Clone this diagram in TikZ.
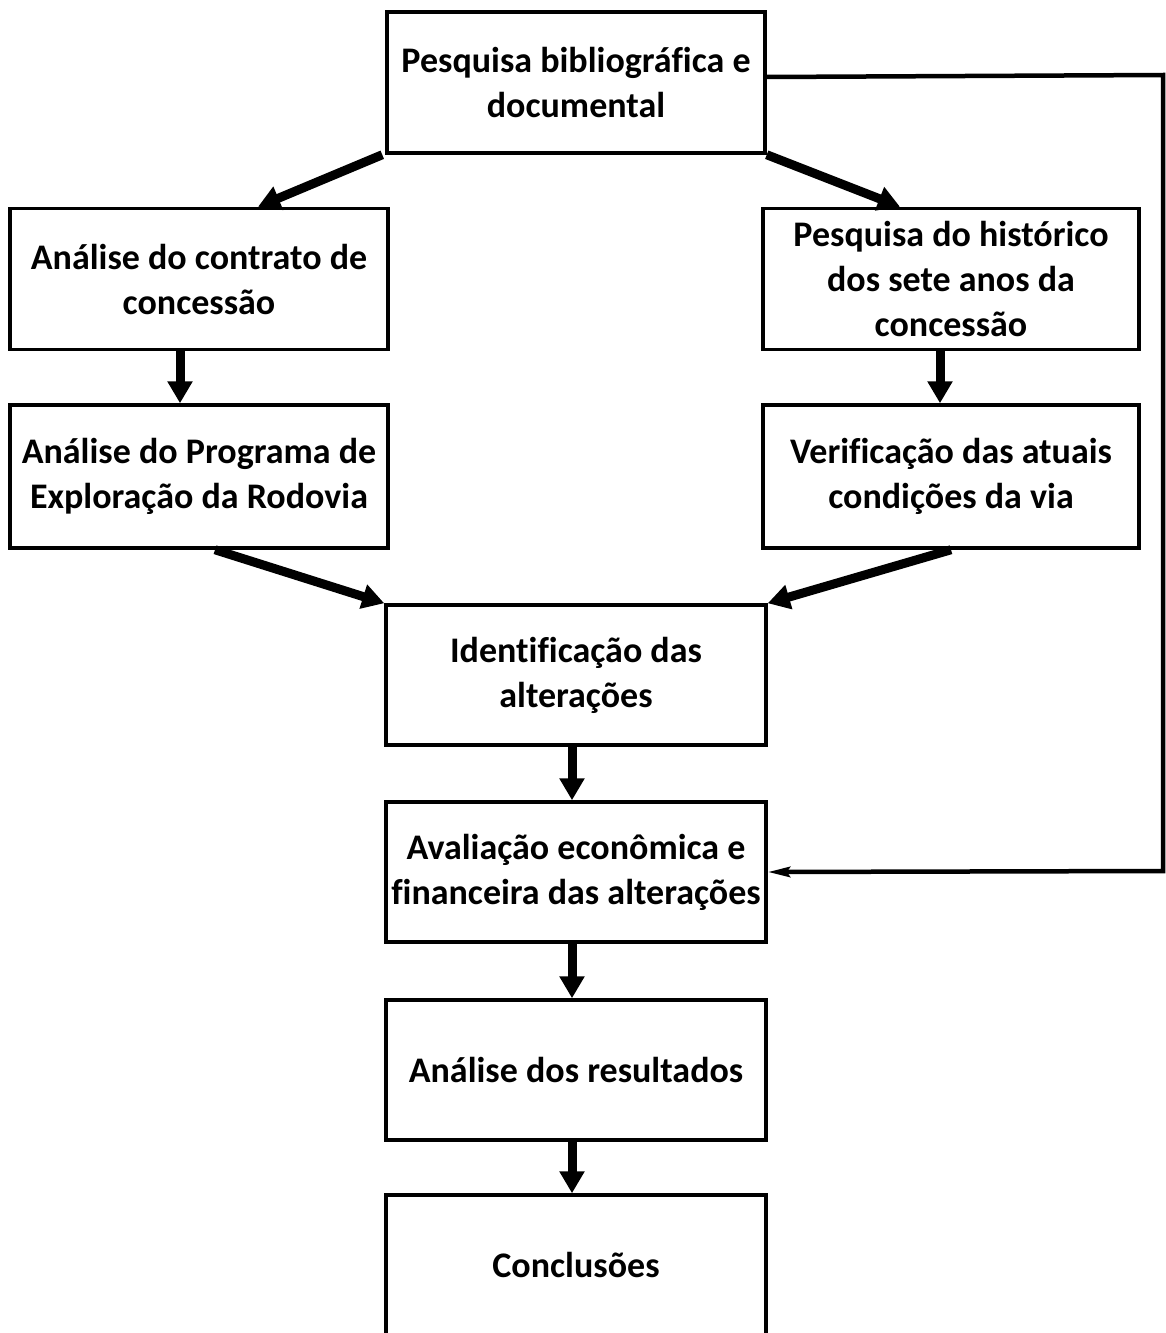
\documentclass[tikz,border=0pt]{standalone}
\usepackage{fontspec}
\setmainfont[RawFeature={-liga}]{Carlito}
\usetikzlibrary{arrows.meta,calc}
\tikzset{
  box/.style={draw=black, line width=3.5pt, rectangle, align=center, minimum width=378pt, minimum height=141pt, inner sep=0pt,
    font=\fontsize{36}{45}\selectfont\bfseries},
  thick arrow/.style={line width=9pt, -{Triangle[length=22pt,width=24pt]}},
  fb/.style={line width=4.5pt, -{Stealth[length=22pt,width=10pt,inset=3pt]}}
}
\begin{document}
\begin{tikzpicture}[x=1pt,y=-1pt]
\useasboundingbox (0,0) rectangle (1165,1333);
\node[box] (top) at (576,82.5) {Pesquisa bibliográf\kern0pt ica e\\documental};
\node[box] (l1) at (199,279) {Análise do contrato de\\concessão};
\node[box, minimum width=376pt] (r1) at (951,279) {Pesquisa do histórico\\dos sete anos da\\concessão};
\node[box, minimum height=143pt] (l2) at (199,476.5) {Análise do Programa de\\Exploração da Rodovia};
\node[box, minimum width=376pt, minimum height=143pt] (r2) at (951,476.5) {Verif\kern0pt icação das atuais\\condições da via};
\node[box, minimum width=380pt, minimum height=140pt] (id) at (576,675) {Identif\kern0pt icação das\\alterações};
\node[box, minimum width=380pt, minimum height=140pt] (av) at (576,872) {Avaliação econômica e\\f\kern0pt inanceira das alterações};
\node[box, minimum width=380pt, minimum height=140pt] (an) at (576,1070) {Análise dos resultados};
\node[box, minimum width=380pt, minimum height=140pt] (co) at (576,1265) {Conclusões};
\coordinate (fbA) at (1163,75);
\coordinate (fbB) at (1163,871);
\draw[thick arrow] ([xshift=-3pt]top.south west) -- ([xshift=59pt]l1.north);
\draw[thick arrow] (top.south east) -- ([xshift=-51pt]r1.north);
\draw[thick arrow] ([xshift=-19pt]l1.south) -- ([xshift=-19pt]l2.north);
\draw[thick arrow] ([xshift=-11pt]r1.south) -- ([xshift=-11pt]r2.north);
\draw[thick arrow] ([xshift=16pt]l2.south) -- (id.north west);
\draw[thick arrow] (r2.south) -- (id.north east);
\draw[thick arrow] ([xshift=-4pt]id.south) -- ([xshift=-4pt]av.north);
\draw[thick arrow] ([xshift=-4pt]av.south) -- ([xshift=-4pt]an.north);
\draw[thick arrow] ([xshift=-4pt]an.south) -- ([xshift=-4pt]co.north);
\draw[fb] ([yshift=5.5pt]top.east) -- (fbA) -- (fbB) -- (av.east);
\end{tikzpicture}
\end{document}
